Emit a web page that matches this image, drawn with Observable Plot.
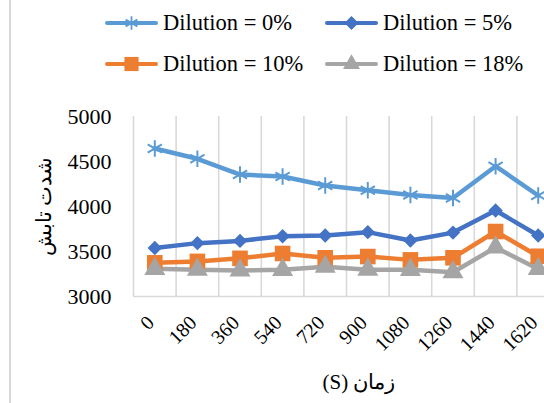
<!DOCTYPE html>
<html>
<head>
<meta charset="utf-8">
<script src="https://cdn.jsdelivr.net/npm/d3@7"></script>
<script src="https://cdn.jsdelivr.net/npm/@observablehq/plot@0.6"></script>
<style>
  body { margin: 0; background: #fff; }
  #chart { position: relative; width: 544px; height: 403px; overflow: hidden;
           font-family: 'Liberation Serif', 'Times New Roman', serif; color: #000; }
  #frame { position: absolute; left: 9px; top: 0; width: 2px; height: 403px; background: #d9d9d9; }
  #legend { position: relative; height: 95px; }
  .item { position: absolute; display: flex; align-items: center; height: 24px;
          font-size: 22.5px; line-height: 1; white-space: nowrap; }
  .item svg { margin-right: 5px; overflow: visible; }
  #chart > svg { display: block; }
</style>
</head>
<body>
<div id="chart">
  <div id="frame"></div>
  <div id="legend"></div>
</div>
<script>
// Time steps (seconds)
const times = [0, 180, 360, 540, 720, 900, 1080, 1260, 1440, 1620];

// Radiation intensity per dilution level
const dilution0  = [4645, 4530, 4355, 4333, 4233, 4180, 4128, 4095, 4448, 4122];
const dilution5  = [3538, 3593, 3618, 3670, 3678, 3715, 3622, 3710, 3956, 3678];
const dilution10 = [3374, 3390, 3424, 3478, 3430, 3444, 3407, 3430, 3722, 3447];
const dilution18 = [3307, 3298, 3290, 3296, 3330, 3298, 3296, 3270, 3545, 3305];

const seriesNames = ["Dilution = 0%", "Dilution = 5%", "Dilution = 10%", "Dilution = 18%"];
const seriesValues = [dilution0, dilution5, dilution10, dilution18];
const colors = ["#5B9BD5", "#4472C4", "#ED7D31", "#A5A5A5"];
const symbols = ["asterisk", "diamond2", "square", "triangle"];

const yTicks = [3000, 3500, 4000, 4500, 5000];
const yTitle = "شدت تابش";
const xTitle = "\u202Bزمان (S)\u202C";

// ---- legend ----
const d3Symbols = {asterisk: d3.symbolAsterisk, diamond2: d3.symbolDiamond2, square: d3.symbolSquare, triangle: d3.symbolTriangle};
const legendSizes = [130, 125, 200, 125];
const legend = d3.select("#legend");
seriesNames.forEach((name, i) => {
  const item = legend.append("div").attr("class", "item")
    .style("left", (i % 2 === 0 ? 105 : 325) + "px")
    .style("top", (i < 2 ? 11 : 52) + "px");
  const sw = item.append("svg").attr("width", 53).attr("height", 24);
  sw.append("line").attr("x1", 2).attr("x2", 51).attr("y1", 12).attr("y2", 12)
    .attr("stroke", colors[i]).attr("stroke-width", 4).attr("stroke-linecap", "round");
  const stroked = symbols[i] === "asterisk";
  sw.append("path").attr("transform", "translate(26.5,12)")
    .attr("d", d3.symbol(d3Symbols[symbols[i]], legendSizes[i])())
    .attr("fill", stroked ? "none" : colors[i])
    .attr("stroke", stroked ? colors[i] : "none")
    .attr("stroke-width", 1.8);
  item.append("span").text(name);
});

// ---- chart ----
const rows = seriesValues.map((vals, s) =>
  times.map((t, i) => ({time: t, value: vals[i], series: seriesNames[s]})));

// category boundaries for the vertical grid
const step = times[1] - times[0];
const bounds = [...times.map(t => t - step / 2), times[times.length - 1] + step / 2];
const dotR = [7.8, 6.5, 8.8, 7.8];

const marks = [
  Plot.gridX(bounds, {stroke: "#d9d9d9", strokeOpacity: 1, strokeWidth: 1.6}),
  Plot.ruleY([yTicks[0]], {stroke: "#d9d9d9", strokeWidth: 1.6}),
  Plot.axisY({ticks: yTicks, tickFormat: d => String(d), tickSize: 0, tickPadding: 22, fontSize: 22, label: null}),
  Plot.axisY({ticks: [], tickSize: 0, label: yTitle, labelAnchor: "center", labelOffset: 97, labelArrow: "none", fontSize: 21}),
  Plot.axisX({ticks: times, tickFormat: d => String(d), tickSize: 0, tickPadding: 23, tickRotate: -45, dx: -4, fontSize: 20, label: null}),
  Plot.text([xTitle], {frameAnchor: "bottom", dx: 20, dy: 92, fontSize: 21, fill: "#000"})
];
rows.forEach((data, s) => {
  marks.push(Plot.line(data, {x: "time", y: "value", stroke: colors[s], strokeWidth: 4.5,
    strokeLinejoin: "round", strokeLinecap: "round"}));
});
rows.forEach((data, s) => {
  const stroked = symbols[s] === "asterisk";
  marks.push(Plot.dot(data, {x: "time", y: "value", symbol: () => symbols[s], r: dotR[s],
    fill: stroked ? "none" : colors[s], stroke: stroked ? colors[s] : "none", strokeWidth: 2}));
});

const chart = Plot.plot({
  width: 544,
  height: 308,
  marginTop: 21,
  marginBottom: 107,
  marginLeft: 133,
  marginRight: 0,
  style: {fontFamily: "'Liberation Serif', 'Times New Roman', serif", color: "#000", background: "transparent"},
  x: {type: "linear", domain: [bounds[0], bounds[bounds.length - 1]], range: [133, 559]},
  y: {domain: [yTicks[0], yTicks[yTicks.length - 1]]},
  symbol: {type: "identity"},
  marks
});
document.getElementById("chart").appendChild(chart);
</script>
</body>
</html>
